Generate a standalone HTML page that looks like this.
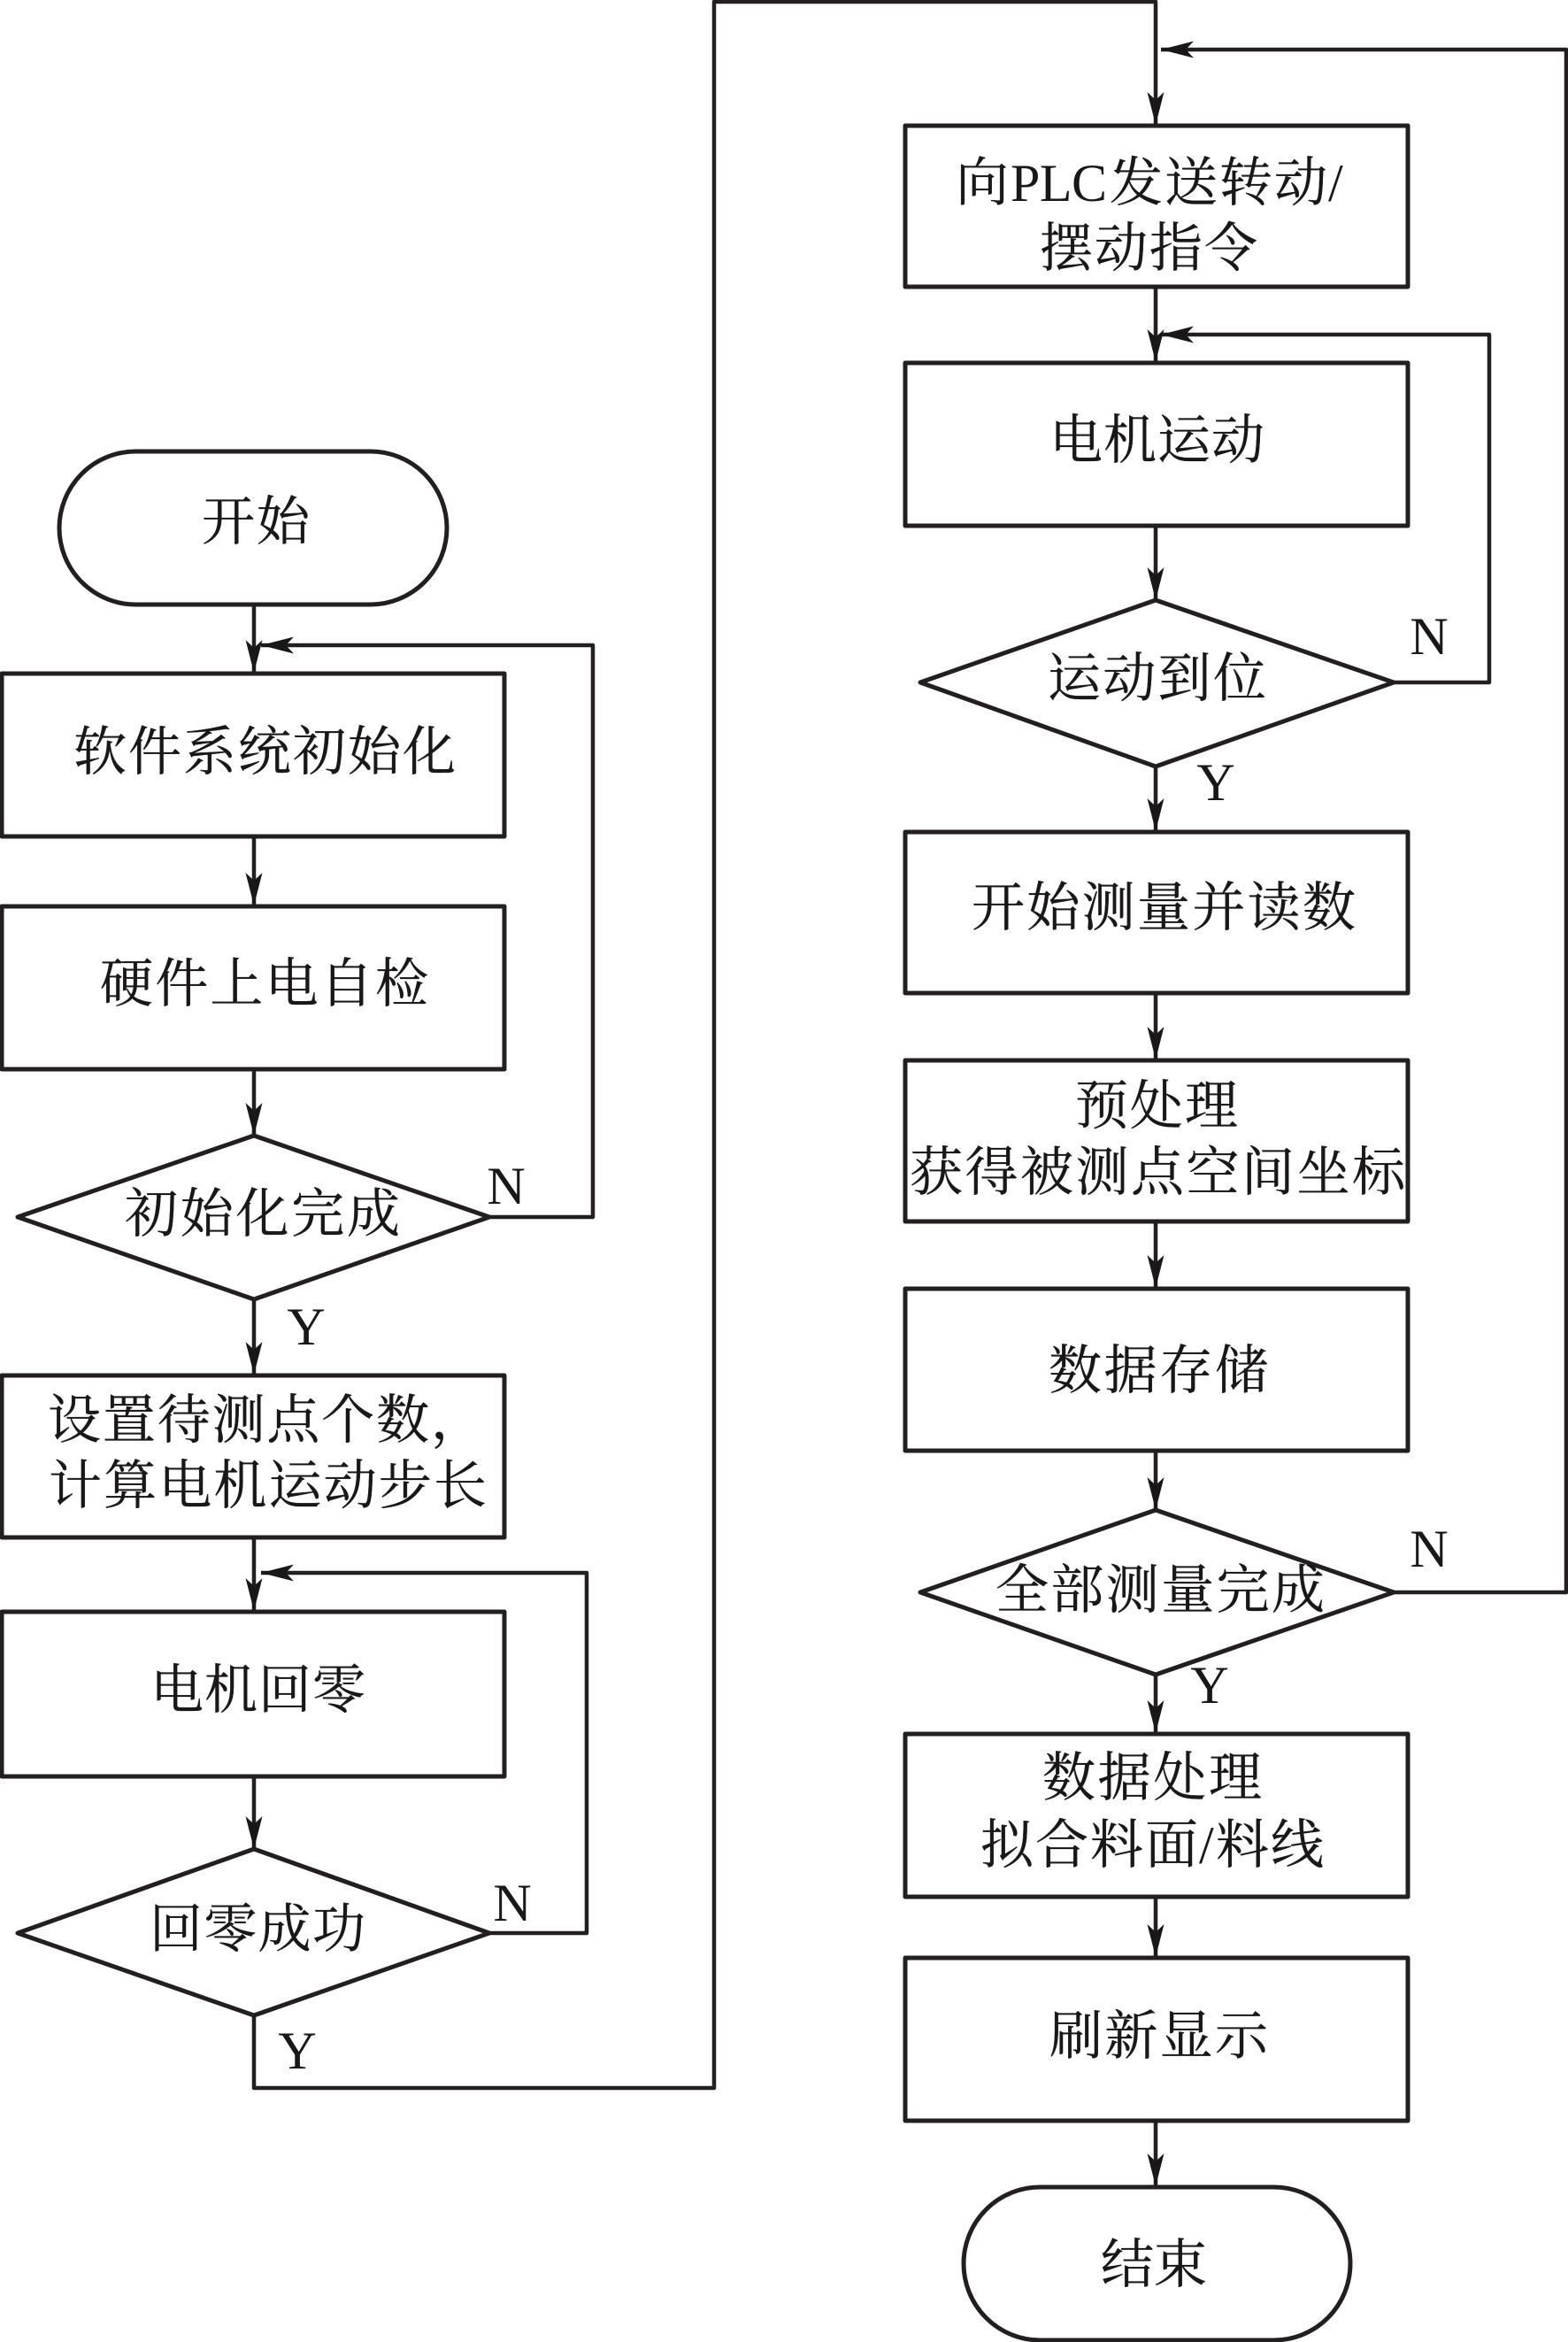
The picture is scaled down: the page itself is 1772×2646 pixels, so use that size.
<!DOCTYPE html>
<html lang="zh">
<head>
<meta charset="utf-8">
<title>流程图</title>
<style>
html,body{margin:0;padding:0;background:#fff;width:1772px;height:2646px;overflow:hidden}
svg{display:block}
.b{fill:#fff;stroke:#231f20;stroke-width:5;stroke-linejoin:round}
.l{fill:none;stroke:#231f20;stroke-width:4.5;stroke-linejoin:round}
text{fill:#1a1718}
.t{font-family:"Liberation Serif","Noto Serif CJK SC",serif;font-size:60px;stroke:#1a1718;stroke-width:.35}
.p{font-family:"Liberation Serif",serif;font-size:60px}
.m{font-family:"Liberation Serif",serif;font-size:60px;text-anchor:middle}
</style>
</head>
<body>
<svg width="1772" height="2646" viewBox="0 0 1772 2646" xmlns="http://www.w3.org/2000/svg">
<defs>
<path id="d" d="M0 0L-9.5 -37L0 -28L9.5 -37Z" fill="#1a1718"/>
<path id="w" d="M0 0L37 -9.5L28 0L37 9.5Z" fill="#1a1718"/>
</defs>

<!-- connectors -->
<path class="l" d="M287 683V1283M287 1468V1554M287 1737V2089M287 2277V2359H807V2H1306V678M1306 866V940M1306 1122V1706M1306 1892V2471"/>
<path class="l" d="M553 1375H670V729H295"/>
<path class="l" d="M553 2184H663V1777H295"/>
<path class="l" d="M1575 771H1683V378H1312"/>
<path class="l" d="M1575 1799H1770V56H1312"/>

<!-- shapes -->
<rect class="b" x="67" y="510" width="438" height="173" rx="86.5" ry="86.5"/>
<rect class="b" x="2" y="761" width="568" height="184"/>
<rect class="b" x="2" y="1024" width="568" height="184"/>
<polygon class="b" points="287,1283 553,1375 287,1468 20,1375"/>
<rect class="b" x="2" y="1554" width="568" height="183"/>
<rect class="b" x="2" y="1821" width="568" height="186"/>
<polygon class="b" points="287,2089 553,2184 287,2277 20,2184"/>

<rect class="b" x="1023" y="142" width="568" height="182"/>
<rect class="b" x="1023" y="410" width="568" height="184"/>
<polygon class="b" points="1306,678 1575,771 1306,866 1040,771"/>
<rect class="b" x="1023" y="940" width="568" height="182"/>
<rect class="b" x="1023" y="1198" width="568" height="182"/>
<rect class="b" x="1023" y="1456" width="568" height="183"/>
<polygon class="b" points="1306,1706 1575,1799 1306,1892 1040,1799"/>
<rect class="b" x="1023" y="1959" width="568" height="184"/>
<rect class="b" x="1023" y="2212" width="568" height="184"/>
<rect class="b" x="1089" y="2471" width="437" height="173" rx="86.5" ry="86.5"/>

<!-- arrowheads -->
<use href="#d" x="287" y="760"/>
<use href="#d" x="287" y="1023"/>
<use href="#d" x="287" y="1283"/>
<use href="#d" x="287" y="1553"/>
<use href="#d" x="287" y="1820"/>
<use href="#d" x="287" y="2089"/>
<use href="#d" x="1306" y="141"/>
<use href="#d" x="1306" y="409"/>
<use href="#d" x="1306" y="678"/>
<use href="#d" x="1306" y="939"/>
<use href="#d" x="1306" y="1197"/>
<use href="#d" x="1306" y="1455"/>
<use href="#d" x="1306" y="1706"/>
<use href="#d" x="1306" y="1958"/>
<use href="#d" x="1306" y="2211"/>
<use href="#d" x="1306" y="2470"/>
<use href="#w" x="295" y="729"/>
<use href="#w" x="295" y="1777"/>
<use href="#w" x="1312" y="378"/>
<use href="#w" x="1312" y="56"/>

<!-- node labels -->
<text class="t" x="228" y="610" textLength="122">开始</text>
<text class="t" x="83" y="870" textLength="432">软件系统初始化</text>
<text class="t" x="113" y="1132" textLength="371">硬件上电自检</text>
<text class="t" x="141" y="1392" textLength="311">初始化完成</text>
<text class="t" x="54" y="1625" textLength="493">设置待测点个数，</text>
<text class="t" x="55" y="1699" textLength="495">计算电机运动步长</text>
<text class="t" x="170" y="1930" textLength="243">电机回零</text>
<text class="t" x="169" y="2200" textLength="244">回零成功</text>
<text class="t" x="1080" y="227">向</text>
<text class="p" x="1142" y="227" textLength="109">PLC</text>
<text class="t" x="1254" y="227" textLength="246">发送转动</text>
<text class="p" x="1501" y="227">/</text>
<text class="t" x="1175" y="301" textLength="246">摆动指令</text>
<text class="t" x="1186" y="518" textLength="243">电机运动</text>
<text class="t" x="1184" y="787" textLength="247">运动到位</text>
<text class="t" x="1098" y="1046" textLength="434">开始测量并读数</text>
<text class="t" x="1215" y="1270" textLength="184">预处理</text>
<text class="t" x="1028" y="1345" textLength="560">获得被测点空间坐标</text>
<text class="t" x="1185" y="1569" textLength="248">数据存储</text>
<text class="t" x="1125" y="1817" textLength="372">全部测量完成</text>
<text class="t" x="1178" y="2029" textLength="248">数据处理</text>
<text class="t" x="1108" y="2105" textLength="246">拟合料面</text>
<text class="p" x="1355" y="2105">/</text>
<text class="t" x="1374" y="2105" textLength="122">料线</text>
<text class="t" x="1186" y="2321" textLength="247">刷新显示</text>
<text class="t" x="1244" y="2579" textLength="120">结束</text>

<!-- branch labels -->
<text class="m" x="572" y="1360">N</text>
<text class="m" x="346" y="1519">Y</text>
<text class="m" x="579" y="2170">N</text>
<text class="m" x="336" y="2337">Y</text>
<text class="m" x="1615" y="739">N</text>
<text class="m" x="1374" y="904">Y</text>
<text class="m" x="1615" y="1770">N</text>
<text class="m" x="1367" y="1924">Y</text>
</svg>
</body>
</html>
